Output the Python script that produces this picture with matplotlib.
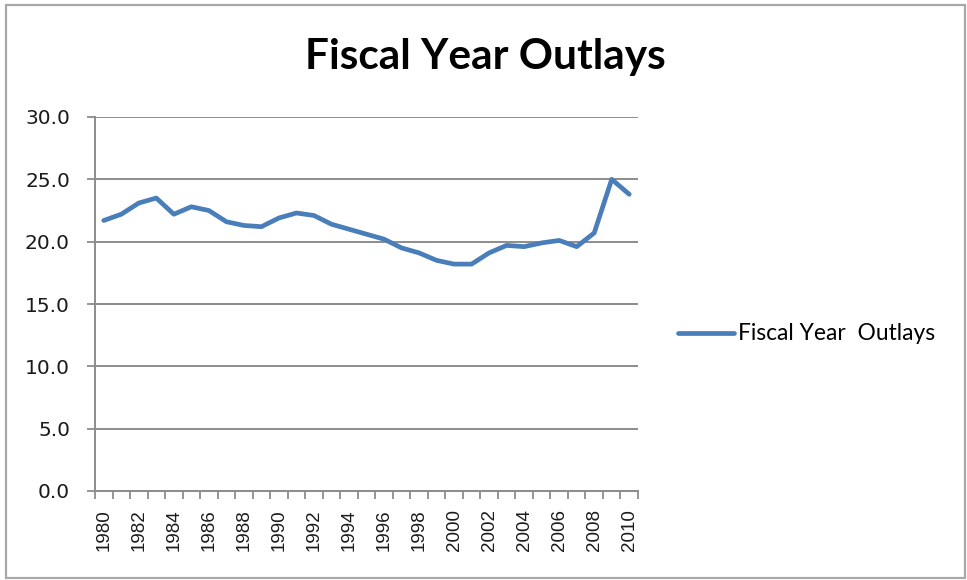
import matplotlib.pyplot as plt
from matplotlib.patches import Rectangle
from matplotlib.ticker import FixedLocator, NullFormatter

years = list(range(1980, 2011))
outlays = [21.7, 22.2, 23.1, 23.5, 22.2, 22.8, 22.5, 21.6, 21.3, 21.2,
           21.9, 22.3, 22.1, 21.4, 21.0, 20.6, 20.2, 19.5, 19.1, 18.5,
           18.2, 18.2, 19.1, 19.7, 19.6, 19.9, 20.1, 19.6, 20.7, 25.0,
           23.8]
y_ticks = [0, 5, 10, 15, 20, 25, 30]

W, H = 967, 580
fig = plt.figure(figsize=(W / 100, H / 100), dpi=100)
fig.patch.set_facecolor("white")

# plot area in pixel terms
left, right, top, bottom = 95, 638, 117, 491
ax = fig.add_axes([left / W, 1 - bottom / H, (right - left) / W, (bottom - top) / H])

grid_col = "#8c8c8c"
x = list(range(len(years)))
line, = ax.plot(x, outlays, color="#4a7ebb", lw=3.4, solid_joinstyle="round",
                solid_capstyle="round", label="Fiscal Year  Outlays", zorder=3)

ax.set_xlim(-0.5, len(years) - 0.5)
ax.set_ylim(0, 30)
ax.set_yticks(y_ticks)
ax.set_yticklabels([f"{v:.1f}" for v in y_ticks])
ax.yaxis.grid(True, color=grid_col, lw=1.4)
ax.set_axisbelow(True)

# year labels every other year, tick marks on category boundaries
ax.set_xticks(x[::2])
ax.set_xticklabels([str(y) for y in years[::2]], rotation=90)
ax.xaxis.set_minor_locator(FixedLocator([i - 0.5 for i in range(len(years) + 1)]))
ax.xaxis.set_minor_formatter(NullFormatter())
ax.tick_params(axis="x", which="major", length=0, pad=13)
ax.tick_params(axis="x", which="minor", length=6, width=1.3, color=grid_col)
ax.tick_params(axis="y", length=6, width=1.3, color=grid_col, pad=12)
for lab in ax.get_xticklabels():
    lab.set_fontfamily("Liberation Sans")
    lab.set_fontsize(13.5)
    lab.set_color("#1a1a1a")
for lab in ax.get_yticklabels():
    lab.set_fontfamily("DejaVu Sans")
    lab.set_fontsize(14.5)
    lab.set_color("#1a1a1a")

for side in ["top", "right"]:
    ax.spines[side].set_visible(False)
for side in ["left", "bottom"]:
    ax.spines[side].set_color(grid_col)
    ax.spines[side].set_linewidth(1.4)

fig.text(485 / W, 1 - 57 / H, "Fiscal Year Outlays", ha="center", va="center",
         fontsize=30.5, fontweight="bold", family="Lato")

leg = fig.legend(handles=[line], loc="center left", bbox_to_anchor=(657 / W, 1 - 334 / H),
                 frameon=False, handlelength=2.5, handletextpad=0.15,
                 prop={"family": "Lato", "size": 16.4})

fig.add_artist(Rectangle((6 / W, 2 / H), 959 / W, 573 / H, transform=fig.transFigure,
                         fill=False, edgecolor="#a8a8a8", lw=1.6))

fig.savefig("out.png", dpi=100)
